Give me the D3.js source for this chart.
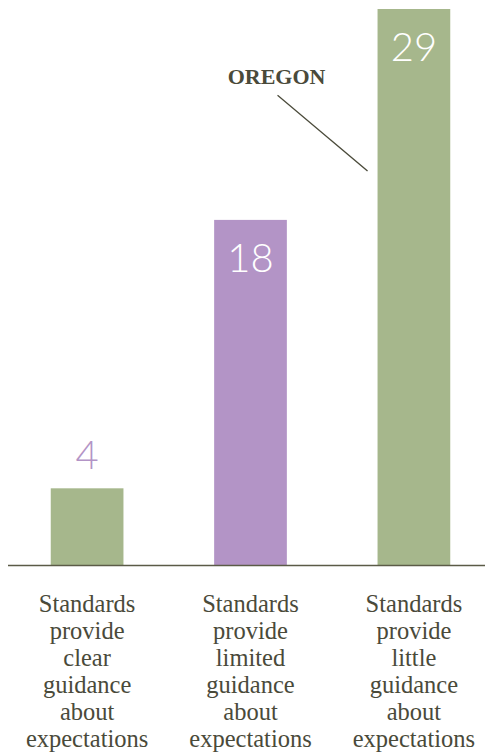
<!DOCTYPE html>
<html>
<head>
<meta charset="utf-8">
<script src="https://cdn.jsdelivr.net/npm/d3@7"></script>
<style>
  html, body { margin: 0; padding: 0; background: #fff; }
  svg { display: block; }
</style>
</head>
<body>
<div id="chart"></div>
<script>
(function() {
  var width = 485;
  var height = 754;

  // data
  var categories = ['clear', 'limited', 'little'];
  var values = [4, 18, 29];
  var labelLines = [
    ['Standards', 'provide', 'clear', 'guidance', 'about', 'expectations'],
    ['Standards', 'provide', 'limited', 'guidance', 'about', 'expectations'],
    ['Standards', 'provide', 'little', 'guidance', 'about', 'expectations']
  ];
  var barColors = ['#a6b78c', '#b394c6', '#a6b78c'];
  var annotation = { category: 'little', text: 'OREGON' };

  var ink = '#4a4a3a';
  var serif = 'Liberation Serif';
  var baseY = 565;

  var svg = d3.select('#chart')
    .append('svg')
    .attr('width', width)
    .attr('height', height);

  var x = d3.scaleBand()
    .domain(categories)
    .range([5, 496])
    .paddingInner(0.555)
    .paddingOuter(0.28);

  var y = d3.scaleLinear()
    .domain([0, 29])
    .range([baseY, 9]);

  var data = categories.map(function(c, i) {
    return { cat: c, value: values[i], color: barColors[i], lines: labelLines[i] };
  });

  // bars
  svg.selectAll('.bar')
    .data(data)
    .enter()
    .append('rect')
    .attr('class', 'bar')
    .attr('x', function(d) { return x(d.cat); })
    .attr('width', x.bandwidth())
    .attr('y', function(d) { return y(d.value); })
    .attr('height', function(d) { return y(0) - y(d.value); })
    .attr('fill', function(d) { return d.color; });

  // baseline
  svg.append('line')
    .attr('x1', 8)
    .attr('x2', width)
    .attr('y1', y(0) + 0.5)
    .attr('y2', y(0) + 0.5)
    .attr('stroke', '#5b5b47')
    .attr('stroke-width', 1.5);

  // value labels: inside tall bars in white, above short bars in purple
  svg.selectAll('.value')
    .data(data)
    .enter()
    .append('text')
    .attr('class', 'value')
    .attr('x', function(d) { return x(d.cat) + x.bandwidth() / 2; })
    .attr('y', function(d) {
      return d.value < 10 ? y(d.value) - 19 : y(d.value) + 52;
    })
    .attr('text-anchor', 'middle')
    .attr('font-family', 'Lato')
    .attr('font-weight', 300)
    .attr('font-size', 40)
    .attr('fill', function(d) { return d.value < 10 ? '#b394c6' : '#ffffff'; })
    .text(function(d) { return d.value; });

  // category labels, one text per line
  svg.selectAll('.cat')
    .data(data.flatMap(function(d) {
      return d.lines.map(function(l, i) { return { cat: d.cat, text: l, row: i }; });
    }))
    .enter()
    .append('text')
    .attr('class', 'cat')
    .attr('x', function(d) { return x(d.cat) + x.bandwidth() / 2; })
    .attr('y', function(d) { return baseY + 47 + d.row * 27; })
    .attr('text-anchor', 'middle')
    .attr('font-family', serif)
    .attr('font-size', 24.5)
    .attr('fill', ink)
    .text(function(d) { return d.text; });

  // Oregon callout pointing at the third bar
  var ax = x(annotation.category);
  svg.append('line')
    .attr('x1', ax - 100)
    .attr('y1', y(24.5))
    .attr('x2', ax - 10)
    .attr('y2', y(20.55))
    .attr('stroke', ink)
    .attr('stroke-width', 1.3);

  svg.append('text')
    .attr('x', ax - 101)
    .attr('y', y(25.1))
    .attr('text-anchor', 'middle')
    .attr('font-family', serif)
    .attr('font-weight', 'bold')
    .attr('font-size', 22)
    .attr('fill', ink)
    .text(annotation.text);
})();
</script>
</body>
</html>
